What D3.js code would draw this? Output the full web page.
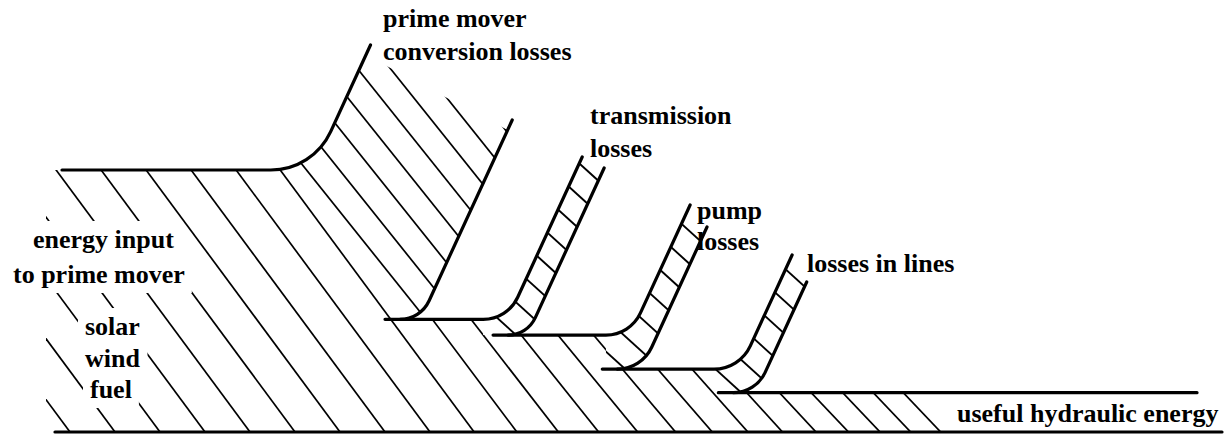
<!DOCTYPE html>
<html><head><meta charset="utf-8">
<script src="https://cdn.jsdelivr.net/npm/d3@7"></script>
<style>html,body{margin:0;padding:0;background:#fff;} svg{display:block}</style>
</head><body>
<svg id="c" width="1231" height="435"></svg>
<script>
// ---------------- data ----------------
const inputEnergy = 100;                       // energy input to prime mover (%)
const lossLabels = [["prime mover","conversion losses"],["transmission","losses"],["pump","losses"],["losses in lines"]];
const lossValues = [57, 6, 13, 9];             // % of input lost at each stage
const inputLabel = ["energy input","to prime mover"];
const sourceLabels = ["solar","wind","fuel"];
const outputLabel = "useful hydraulic energy";

// ---------------- layout ----------------
const svg = d3.select("#c");
const defs = svg.append("defs");
const y = d3.scaleLinear().domain([0, 100]).range([432, 170]);
const x = d3.scaleLinear().domain([0, 1]).range([55, 1222]);
const K = 0.46;                     // lean of loss bands (dx per dy)
const theta = Math.atan(1 / K);
const tanHalf = Math.tan(theta / 2);
const firstCorner = 313, gaps = [87, 103, 98], stub = 15, minBandW = 27;
const bandOuterTopY = [45, 157, 205, 255];
const bandInnerTopY = [120, 168, 227, 282];
const outerR = [66, 38, 38, 40], innerR = [32, 30, 38, 35];
const HATCH_PHASE = 70;
const S_B = 0.8, GAP_B = 33;        // hatch inside the prime-mover band
const S_RUNG = 1.1, RUNG_GAP = 36;
const topStartX = 62, finalTopEnd = 1197, cutInset = 10;
const labelPos = [[383, 27, 33], [590, 124, 33], [697, 219, 31], [807, 272, 0]];
const inputPos = [[33, 248], [13, 283]];
const sourcePos = [[85, 335], [85, 367], [90, 398]];
const outputPos = [957, 422];

const levels = [inputEnergy];
lossValues.forEach(v => levels.push(levels[levels.length - 1] - v));

const bands = [];
lossValues.forEach((v, i) => {
  const yPrev = y(levels[i]), yNew = y(levels[i + 1]);
  const drop = yNew - yPrev;
  const bw = drop > 80 ? drop * 1.18 : minBandW;
  const outerCx = i === 0 ? firstCorner : bands[i - 1].innerCx + gaps[i - 1];
  const innerCx = outerCx + bw - drop * K;
  const oEnd = [outerCx + K * (yPrev - bandOuterTopY[i]), bandOuterTopY[i]];
  const iEnd = [innerCx + K * (yNew - bandInnerTopY[i]), bandInnerTopY[i]];
  const oT = outerCx - outerR[i] * tanHalf;
  const iT = innerCx - innerR[i] * tanHalf;
  bands.push({ i, v, yPrev, yNew, drop, bw, outerCx, innerCx, oEnd, iEnd, oT, iT, levelStart: iT - stub });
});
const lastBand = bands[bands.length - 1];
const b0 = bands[0];

// ---------------- labels ----------------
const font = { "font-family": "'Liberation Serif', 'Times New Roman', serif", "font-weight": "bold", "font-size": "26px" };
const gText = svg.append("g").attr("class", "labels");
function addText(g, str, px, py) {
  const t = g.append("text").attr("x", px).attr("y", py).text(str).attr("fill", "#000");
  Object.entries(font).forEach(([k, v]) => t.attr(k, v));
  return t;
}
lossLabels.forEach((lines, i) => {
  lines.forEach((s, j) => addText(gText, s, labelPos[i][0], labelPos[i][1] + j * labelPos[i][2]));
});
const leftTexts = [];
inputLabel.forEach((s, j) => leftTexts.push(addText(gText, s, inputPos[j][0], inputPos[j][1])));
sourceLabels.forEach((s, j) => leftTexts.push(addText(gText, s, sourcePos[j][0], sourcePos[j][1])));
addText(gText, outputLabel, outputPos[0], outputPos[1]);

// ---------------- hatch line families ----------------
// main flow: spacing tightens and slope steepens towards the output end
const mainLines = [];
{
  let c = HATCH_PHASE - 45 * 12;
  while (c < 1300) {
    const t = Math.max(0, Math.min(1, (c - 500) / 350));
    mainLines.push({ c, s: 0.74 + 0.21 * t });
    const g = c < 400 ? 45 : (c > 900 ? 30 : 45 - 15 * (c - 400) / 500);
    c += g;
  }
}
const lastHatch = mainLines.filter(d => d.c < outputPos[0] - 15).pop();
const sEnd = lastHatch.s;
const hatchEndBottom = lastHatch.c + 12;

// ---------------- clip regions ----------------
const oCut = [b0.oEnd[0] - K * cutInset, b0.oEnd[1] + cutInset];
const iCut = [b0.iEnd[0] - K * cutInset, b0.iEnd[1] + cutInset];
const mainPath = d3.path();
mainPath.moveTo(46, b0.yPrev);
mainPath.arcTo(b0.outerCx, b0.yPrev, oCut[0], oCut[1], outerR[0]);
mainPath.lineTo(oCut[0], oCut[1]);
mainPath.lineTo(iCut[0], iCut[1]);
mainPath.arcTo(b0.innerCx, b0.yNew, b0.innerCx - 300, b0.yNew, innerR[0]);
for (let i = 1; i < bands.length; i++) {
  const b = bands[i];
  mainPath.lineTo(b.oT, b.yPrev);
  mainPath.lineTo(b.oT, b.yNew);
}
mainPath.lineTo(hatchEndBottom - sEnd * (y(0) - lastBand.yNew), lastBand.yNew);
mainPath.lineTo(hatchEndBottom, y(0));
mainPath.lineTo(46, y(0));
mainPath.closePath();
defs.append("clipPath").attr("id", "clipMain").append("path").attr("d", mainPath.toString());

// dividing line between band hatch and main-flow hatch, through the inner junction
const divTopX = b0.iT - 0.74 * b0.yNew;
defs.append("clipPath").attr("id", "clipBandSide").append("path")
  .attr("d", `M${divTopX},0L1231,0L1231,${b0.yNew}L${b0.iT},${b0.yNew}Z`);
defs.append("clipPath").attr("id", "clipFlowSide").append("path")
  .attr("d", `M0,0L${divTopX},0L${b0.iT},${b0.yNew}L1231,${b0.yNew}L1231,435L0,435Z`);

bands.forEach((b, i) => {
  if (i === 0) return;
  const p = d3.path();
  p.moveTo(b.oT, b.yPrev);
  p.arcTo(b.outerCx, b.yPrev, b.oEnd[0], b.oEnd[1], outerR[i]);
  p.lineTo(b.oEnd[0], b.oEnd[1]);
  p.lineTo(b.iEnd[0], b.iEnd[1]);
  p.arcTo(b.innerCx, b.yNew, b.innerCx - 300, b.yNew, innerR[i]);
  p.lineTo(b.oT, b.yNew);
  p.closePath();
  defs.append("clipPath").attr("id", "clipBand" + i).append("path").attr("d", p.toString());
});

const mask = defs.append("mask").attr("id", "textMask").attr("maskUnits", "userSpaceOnUse")
  .attr("x", 0).attr("y", 0).attr("width", 1231).attr("height", 435);
mask.append("rect").attr("width", 1231).attr("height", 435).attr("fill", "#fff");
leftTexts.forEach(t => {
  const bb = t.node().getBBox();
  mask.append("rect").attr("x", bb.x - 7).attr("y", bb.y - 4).attr("width", bb.width + 14).attr("height", bb.height + 8).attr("fill", "#000");
});

// ---------------- hatching ----------------
const gH = svg.insert("g", ".labels").attr("mask", "url(#textMask)");
const gMain = gH.append("g").attr("clip-path", "url(#clipMain)");
gMain.append("g").attr("clip-path", "url(#clipFlowSide)")
  .selectAll("line").data(mainLines).join("line")
  .attr("x1", d => d.c - d.s * y(0)).attr("y1", 0)
  .attr("x2", d => d.c + d.s * (435 - y(0))).attr("y2", 435)
  .attr("stroke", "#000").attr("stroke-width", 1.7);

const bandLines = d3.range(b0.iT + 26 - 12 * GAP_B, b0.iT + 26 + 12 * GAP_B, GAP_B);
gMain.append("g").attr("clip-path", "url(#clipBandSide)")
  .selectAll("line").data(bandLines).join("line")
  .attr("x1", c => c - S_B * b0.yNew).attr("y1", 0)
  .attr("x2", c => c + S_B * (435 - b0.yNew)).attr("y2", 435)
  .attr("stroke", "#000").attr("stroke-width", 1.7);

bands.forEach((b, i) => {
  if (i === 0) return;
  const g = svg.insert("g", ".labels").attr("clip-path", `url(#clipBand${i})`);
  const cs = d3.range(b.iT - 20 * RUNG_GAP + 8, b.iEnd[0] + 400, RUNG_GAP);
  g.selectAll("line").data(cs).join("line")
    .attr("x1", c => c - S_RUNG * b.yNew).attr("y1", 0)
    .attr("x2", c => c + S_RUNG * (435 - b.yNew)).attr("y2", 435)
    .attr("stroke", "#000").attr("stroke-width", 1.9);
});

// ---------------- outlines ----------------
const gO = svg.insert("g", ".labels").attr("fill", "none").attr("stroke", "#000").attr("stroke-width", 3.2).attr("stroke-linecap", "round");
const topPath = d3.path();
topPath.moveTo(topStartX, b0.yPrev);
topPath.arcTo(b0.outerCx, b0.yPrev, b0.oEnd[0], b0.oEnd[1], outerR[0]);
topPath.lineTo(b0.oEnd[0], b0.oEnd[1]);
gO.append("path").attr("d", topPath.toString());

bands.forEach((b, i) => {
  const inner = d3.path();
  inner.moveTo(b.iEnd[0], b.iEnd[1]);
  inner.arcTo(b.innerCx, b.yNew, b.innerCx - 300, b.yNew, innerR[i]);
  gO.append("path").attr("d", inner.toString());
  const lv = d3.path();
  lv.moveTo(b.levelStart, b.yNew);
  const nb = bands[i + 1];
  if (nb) {
    lv.arcTo(nb.outerCx, b.yNew, nb.oEnd[0], nb.oEnd[1], outerR[i + 1]);
    lv.lineTo(nb.oEnd[0], nb.oEnd[1]);
  } else {
    lv.lineTo(finalTopEnd, b.yNew);
  }
  gO.append("path").attr("d", lv.toString());
});
gO.append("line").attr("x1", x(0)).attr("x2", x(1)).attr("y1", y(0)).attr("y2", y(0));
</script>
</body></html>
